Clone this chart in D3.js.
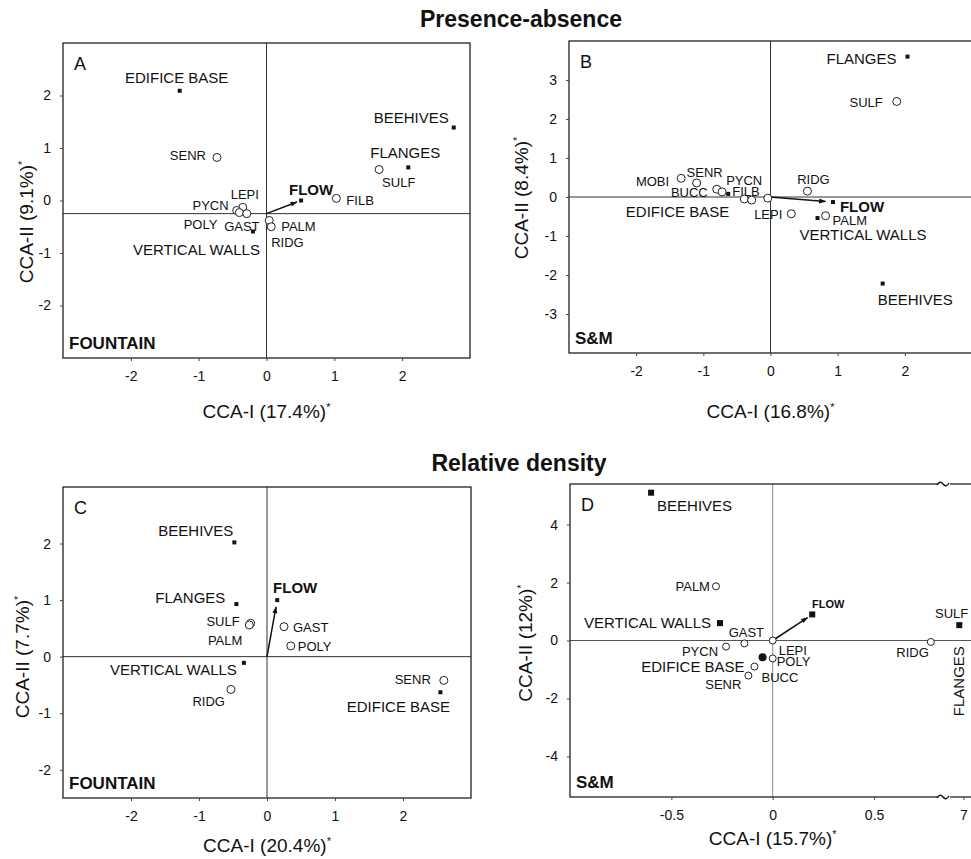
<!DOCTYPE html>
<html>
<head>
<meta charset="utf-8">
<script src="https://cdn.jsdelivr.net/npm/d3@7"></script>
<style>
  body { margin: 0; background: #fff; }
  text { font-family: "Liberation Sans", Arial, sans-serif; fill: #111; }
  .tick text { font-family: "Liberation Sans Narrow", "Liberation Sans", Arial, sans-serif; }
</style>
</head>
<body>
<div id="container"></div>
<script>
const width = 971;
const height = 859;

// which names are sampling habitats (filled squares) and the environmental vector
const habitats = ["EDIFICE BASE", "BEEHIVES", "FLANGES", "VERTICAL WALLS"];
const envVar = "FLOW";

// A: presence-absence, Fountain
const aNames = ["EDIFICE BASE", "BEEHIVES", "FLANGES", "VERTICAL WALLS", "FLOW", "SENR", "SULF", "FILB", "LEPI", "PYCN", "POLY", "GAST", "RIDG", "PALM"];
const aX = [-1.28, 2.76, 2.09, -0.20, 0.51, -0.73, 1.66, 1.03, -0.35, -0.44, -0.40, -0.29, 0.04, 0.07];
const aY = [2.09, 1.39, 0.63, -0.59, 0.00, 0.82, 0.59, 0.04, -0.13, -0.19, -0.23, -0.25, -0.38, -0.50];

// B: presence-absence, S&M
const bNames = ["FLANGES", "SULF", "BEEHIVES", "MOBI", "SENR", "BUCC", "PYCN", "EDIFICE BASE", "FILB", "POLY", "GAST", "LEPI", "RIDG", "FLOW", "VERTICAL WALLS", "PALM"];
const bX = [2.04, 1.88, 1.67, -1.33, -1.10, -0.80, -0.72, -0.63, -0.39, -0.28, -0.04, 0.31, 0.55, 0.93, 0.70, 0.82];
const bY = [3.60, 2.45, -2.22, 0.48, 0.36, 0.20, 0.13, 0.08, -0.05, -0.08, -0.03, -0.43, 0.15, -0.13, -0.54, -0.48];

// C: relative density, Fountain
const cNames = ["BEEHIVES", "FLANGES", "SULF", "PALM", "FLOW", "GAST", "POLY", "VERTICAL WALLS", "RIDG", "SENR", "EDIFICE BASE"];
const cX = [-0.48, -0.45, -0.24, -0.26, 0.15, 0.25, 0.35, -0.34, -0.53, 2.60, 2.55];
const cY = [2.02, 0.93, 0.59, 0.56, 1.00, 0.53, 0.19, -0.11, -0.58, -0.42, -0.63];

// D: relative density, S&M (x axis broken between 0.84 and 6.92)
const dNames = ["BEEHIVES", "PALM", "VERTICAL WALLS", "GAST", "PYCN", "EDIFICE BASE", "BUCC", "POLY", "SENR", "LEPI", "FLOW", "RIDG", "FLANGES", "SULF"];
const dX = [-0.60, -0.28, -0.26, -0.14, -0.23, -0.05, -0.09, 0.00, -0.12, 0.00, 0.195, 0.78, 6.98, 7.12];
const dY = [5.10, 1.87, 0.60, -0.10, -0.21, -0.58, -0.90, -0.62, -1.21, 0.00, 0.90, -0.05, 0.53, 0.75];

const titleTop = "Presence-absence";
const titleBottom = "Relative density";

// label placement relative to each mark: [dx, dy, anchor, rotate]
const labelsA = {
  "EDIFICE BASE": [-3, -8, "middle"], "BEEHIVES": [-5, -5, "end"], "FLANGES": [-3, -9, "middle"],
  "VERTICAL WALLS": [7, 24, "end"], "FLOW": [10, -6, "middle"], "SENR": [-11, 3, "end"],
  "SULF": [3, 17, "start"], "FILB": [10, 7, "start"], "LEPI": [2, -8, "middle"],
  "PYCN": [-8, 0, "end"], "POLY": [-22, 16, "end"], "GAST": [-5, 17, "middle"],
  "RIDG": [2, 27, "start"], "PALM": [10, 4, "start"]
};
const labelsB = {
  "FLANGES": [-11, 7, "end"], "SULF": [-14, 6, "end"], "BEEHIVES": [-5, 21, "start"],
  "MOBI": [-12, 8, "end"], "SENR": [-10, -6, "start"], "BUCC": [-9, 8, "end"],
  "PYCN": [4, -7, "start"], "EDIFICE BASE": [1, 23, "end"], "FILB": [-12, -3, "start"],
  "LEPI": [-9, 5, "end"], "RIDG": [6, -7, "middle"], "FLOW": [7, 10, "start"],
  "VERTICAL WALLS": [-18, 22, "start"], "PALM": [7, 9, "start"]
};
const labelsC = {
  "BEEHIVES": [-1, -6, "end"], "FLANGES": [-11, -1, "end"], "SULF": [-11, 3, "end"],
  "PALM": [-7, 20, "end"], "FLOW": [18, -7, "middle"], "GAST": [9, 5, "start"],
  "POLY": [7, 5, "start"], "VERTICAL WALLS": [-7, 12, "end"], "RIDG": [-6, 17, "end"],
  "SENR": [-13, 4, "end"], "EDIFICE BASE": [-42, 20, "middle"]
};
const labelsD = {
  "BEEHIVES": [6, 18, "start"], "PALM": [-6, 5, "end"], "VERTICAL WALLS": [-9, 5, "end"],
  "GAST": [2, -6, "middle"], "PYCN": [-8, 9, "end"], "EDIFICE BASE": [-18, 15, "end"],
  "BUCC": [7, 15, "start"], "POLY": [4, 8, "start"], "SENR": [-7, 13, "end"],
  "LEPI": [6, 14, "start"], "FLOW": [16, -6, "middle"], "RIDG": [-2, 15, "end"],
  "FLANGES": [5, 56, "middle", -90], "SULF": [-53, -1, "start"]
};

const panels = [
  { letter: "A", site: "FOUNTAIN", names: aNames, xs: aX, ys: aY, labels: labelsA,
    box: [63, 43, 470, 358], xDomain: [-3, 3], yDomain: [-3, 3],
    xTicks: [-2, -1, 0, 1, 2], yTicks: [-2, -1, 0, 1, 2], hline: -0.25,
    xTitle: "CCA-I (17.4%)", yTitle: "CCA-II (9.1%)", xTitleY: 418, yTitleX: 33, yTitleMid: 222 },
  { letter: "B", site: "S&M", names: bNames, xs: bX, ys: bY, labels: labelsB,
    box: [569, 41, 972, 353], xDomain: [-3, 3], yDomain: [-4, 4],
    xTicks: [-2, -1, 0, 1, 2], yTicks: [-3, -2, -1, 0, 1, 2, 3], hline: 0,
    xTitle: "CCA-I (16.8%)", yTitle: "CCA-II (8.4%)", xTitleY: 418, yTitleX: 528, yTitleMid: 198 },
  { letter: "C", site: "FOUNTAIN", names: cNames, xs: cX, ys: cY, labels: labelsC,
    box: [63, 487, 471, 798], xDomain: [-3, 3], yDomain: [-2.5, 3],
    xTicks: [-2, -1, 0, 1, 2], yTicks: [-2, -1, 0, 1, 2], hline: 0,
    xTitle: "CCA-I (20.4%)", yTitle: "CCA-II (7.7%)", xTitleY: 852, yTitleX: 29, yTitleMid: 657 },
  { letter: "D", site: "S&M", names: dNames, xs: dX, ys: dY, labels: labelsD,
    box: [570, 484, 990, 797], xDomain: [-1, 0.84, 6.92, 7.12], xRange: [570, 943, 947, 988],
    yDomain: [-5.4, 5.4], xTicks: [-0.5, 0, 0.5, 7], yTicks: [-4, -2, 0, 2, 4], hline: 0,
    xTitle: "CCA-I (15.7%)", yTitle: "CCA-II (12%)", xTitleY: 845, yTitleX: 532, yTitleMid: 643,
    broken: 944, big: true, faintAxes: true }
];

const svg = d3.select("#container")
  .append("svg")
  .attr("width", width)
  .attr("height", height);

svg.append("defs").append("marker")
  .attr("id", "arrow")
  .attr("viewBox", "0 0 10 10")
  .attr("refX", 9).attr("refY", 5)
  .attr("markerWidth", 9).attr("markerHeight", 7)
  .attr("markerUnits", "userSpaceOnUse")
  .attr("orient", "auto")
  .append("path")
  .attr("d", "M0,1.5 L10,5 L0,8.5 Z")
  .attr("fill", "#111");

svg.append("text")
  .attr("x", 521).attr("y", 27)
  .attr("text-anchor", "middle")
  .attr("font-size", 23).attr("font-weight", "bold")
  .text(titleTop);

svg.append("text")
  .attr("x", 519).attr("y", 471)
  .attr("text-anchor", "middle")
  .attr("font-size", 23).attr("font-weight", "bold")
  .text(titleBottom);

function drawPanel(p) {
  const [left, top, right, bottom] = p.box;
  const g = svg.append("g");

  const x = d3.scaleLinear().domain(p.xDomain).range(p.xRange || [left, right]);
  const y = d3.scaleLinear().domain(p.yDomain).range([bottom, top]);

  const clipId = "clip" + p.letter;
  g.append("clipPath").attr("id", clipId)
    .append("rect")
    .attr("x", left).attr("y", top)
    .attr("width", right - left).attr("height", bottom - top);

  // zero lines
  const axisColor = p.faintAxes ? "#8a8a8a" : "#333";
  g.append("line")
    .attr("x1", x(0)).attr("x2", x(0))
    .attr("y1", top).attr("y2", bottom)
    .attr("stroke", axisColor).attr("stroke-width", 1);
  g.append("line")
    .attr("x1", left).attr("x2", right)
    .attr("y1", y(p.hline)).attr("y2", y(p.hline))
    .attr("stroke", p.faintAxes ? "#555" : "#333").attr("stroke-width", 1);

  // frame
  g.append("rect")
    .attr("x", left).attr("y", top)
    .attr("width", right - left).attr("height", bottom - top)
    .attr("fill", "none").attr("stroke", "#222").attr("stroke-width", 1.3);

  // axes
  const fmt = d => d3.format("")(d).replace("\u2212", "-");
  const xAxis = g.append("g")
    .attr("transform", `translate(0,${bottom})`)
    .call(d3.axisBottom(x).tickValues(p.xTicks).tickSize(3).tickPadding(10).tickFormat(fmt));
  const yAxis = g.append("g")
    .attr("transform", `translate(${left},0)`)
    .call(d3.axisLeft(y).tickValues(p.yTicks).tickSize(3).tickPadding(9).tickFormat(fmt));
  [xAxis, yAxis].forEach(ax => {
    ax.select(".domain").remove();
    ax.selectAll(".tick line").attr("stroke", "#444");
    ax.selectAll(".tick text").attr("font-size", 14).attr("fill", "#111");
  });

  // axis break on D
  if (p.broken) {
    [top, bottom].forEach(yy => {
      g.append("rect").attr("x", p.broken - 6).attr("y", yy - 3).attr("width", 12).attr("height", 6).attr("fill", "#fff");
      g.append("path")
        .attr("d", `M${p.broken - 7},${yy + 1} q3,-5 6,-1 q3,4 6,-1`)
        .attr("fill", "none").attr("stroke", "#111").attr("stroke-width", 1.4);
    });
  }

  const pts = p.names.map((name, i) => ({ name, x: p.xs[i], y: p.ys[i] }));
  const marks = g.append("g").attr("clip-path", `url(#${clipId})`);

  // flow vector
  const flow = pts.find(d => d.name === envVar);
  const ox = x(0), oy = y(p.hline);
  const fx = x(flow.x), fy = y(flow.y);
  marks.append("line")
    .attr("x1", ox).attr("y1", oy)
    .attr("x2", ox + (fx - ox) * 0.88).attr("y2", oy + (fy - oy) * 0.88)
    .attr("stroke", "#111").attr("stroke-width", 1.5)
    .attr("marker-end", "url(#arrow)");

  const sq = p.big ? 6 : 4;
  marks.selectAll("rect.hab")
    .data(pts.filter(d => habitats.includes(d.name) || d.name === envVar))
    .join("rect")
    .attr("x", d => x(d.x) - sq / 2).attr("y", d => y(d.y) - sq / 2)
    .attr("width", sq).attr("height", sq)
    .attr("fill", "#111");

  if (p.big) {
    // the edifice base mark on D is drawn as a larger dot
    marks.selectAll("rect").filter(d => d && d.name === "EDIFICE BASE").remove();
  }

  marks.selectAll("circle.sp")
    .data(pts.filter(d => !habitats.includes(d.name) && d.name !== envVar))
    .join("circle")
    .attr("cx", d => x(d.x)).attr("cy", d => y(d.y))
    .attr("r", p.big ? 3.5 : 4)
    .attr("fill", "#fff").attr("stroke", "#222").attr("stroke-width", 1);

  // labels
  pts.forEach(d => {
    const lab = p.labels[d.name];
    if (!lab) return;
    const [dx, dy, anchor, rot] = lab;
    const isHab = habitats.includes(d.name);
    const isEnv = d.name === envVar;
    let size = isHab ? 15 : 13;
    if (isEnv) size = p.big ? 11 : 15;
    const tx = x(d.x) + dx, ty = y(d.y) + dy;
    g.append("text")
      .attr("x", tx).attr("y", ty)
      .attr("text-anchor", anchor)
      .attr("transform", rot ? `rotate(${rot},${tx},${ty})` : null)
      .attr("font-size", size)
      .attr("font-weight", isEnv ? "bold" : null)
      .text(d.name);
  });

  if (p.big) {
    const ed = pts.find(d => d.name === "EDIFICE BASE");
    marks.append("circle").attr("cx", x(ed.x)).attr("cy", y(ed.y)).attr("r", 4).attr("fill", "#111");
  }

  // panel letter and site
  g.append("text").attr("x", left + 11).attr("y", top + 27).attr("font-size", 18).text(p.letter);
  g.append("text").attr("x", left + 6).attr("y", bottom - 9)
    .attr("font-size", 17).attr("font-weight", "bold").text(p.site);

  // axis titles with the significance mark
  const midX = x(0);
  const xt = g.append("text").attr("x", midX).attr("y", p.xTitleY)
    .attr("text-anchor", "middle").attr("font-size", 19);
  xt.append("tspan").text(p.xTitle);
  xt.append("tspan").attr("dy", -7).attr("font-size", 11).text("*");

  const yt = g.append("text")
    .attr("transform", `translate(${p.yTitleX},${p.yTitleMid}) rotate(-90)`)
    .attr("text-anchor", "middle").attr("font-size", 19);
  yt.append("tspan").text(p.yTitle);
  yt.append("tspan").attr("dy", -7).attr("font-size", 11).text("*");
}

panels.forEach(drawPanel);
</script>
</body>
</html>
